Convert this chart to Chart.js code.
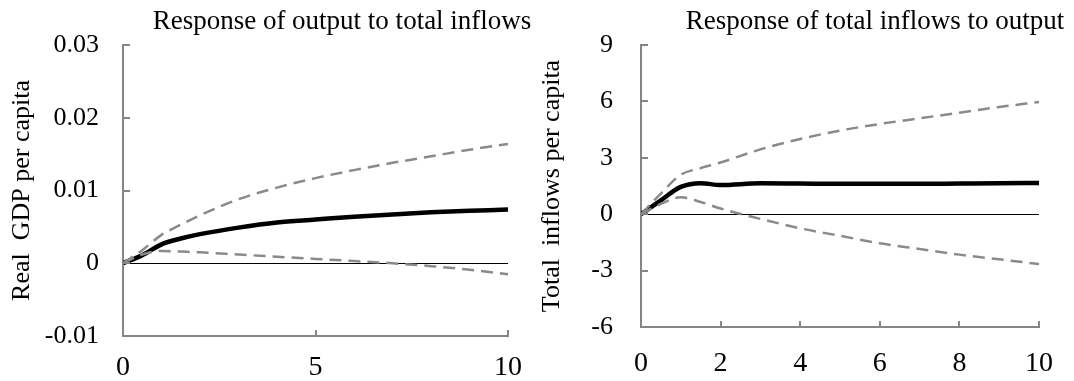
<!DOCTYPE html>
<html>
<head>
<meta charset="utf-8">
<script src="https://cdn.jsdelivr.net/npm/chart.js@4.4.1/dist/chart.umd.min.js"></script>
<style>
  html, body { margin: 0; padding: 0; background: #fff; }
  #wrap { position: relative; width: 1074px; height: 381px; }
  .box { position: absolute; top: 0; width: 537px; height: 381px; }
</style>
</head>
<body>
<div id="wrap">
  <div class="box" style="left:0"><canvas id="outChart"></canvas></div>
  <div class="box" style="left:537px"><canvas id="inflowChart"></canvas></div>
</div>
<script>
// horizon after the shock
const horizon = [0, 0.5, 1, 1.5, 2, 3, 4, 5, 6, 7, 8, 9, 10];

// response of output to total inflows
const outIrf   = [0, 0.0011, 0.0026, 0.0034, 0.0040, 0.0049, 0.0056, 0.0060, 0.0064, 0.0067, 0.0070, 0.0072, 0.0074];
const outUpper = [0, 0.0018, 0.0039, 0.0053, 0.0066, 0.0088, 0.0104, 0.0117, 0.0128, 0.0138, 0.0147, 0.0156, 0.0164];
const outLower = [0, 0.0012, 0.0017, 0.0016, 0.0015, 0.0012, 0.0009, 0.0006, 0.0003, 0.0000, -0.0004, -0.0009, -0.0015];

// response of total inflows to output
const infIrf   = [0, 0.74, 1.45, 1.65, 1.55, 1.64, 1.63, 1.62, 1.62, 1.62, 1.63, 1.64, 1.66];
const infUpper = [0, 1.10, 2.10, 2.45, 2.75, 3.45, 4.00, 4.45, 4.80, 5.10, 5.40, 5.70, 5.97];
const infLower = [0, 0.55, 0.90, 0.65, 0.30, -0.25, -0.75, -1.15, -1.55, -1.85, -2.15, -2.40, -2.65];

// tick labels
const outYTicks = [-0.01, 0, 0.01, 0.02, 0.03];
const outXTicks = [0, 5, 10];
const infYTicks = [-6, -3, 0, 3, 6, 9];
const infXTicks = [0, 2, 4, 6, 8, 10];

const serif = '"Liberation Serif", "Times New Roman", serif';
const axisGray = '#868686';
const bandGray = '#8a8a8a';

const pts = ys => horizon.map((x, i) => ({x: x, y: ys[i]}));

// Excel style tick marks that point into the plot
const insideTicks = {
  id: 'insideTicks',
  afterDatasetsDraw(chart) {
    const {ctx, chartArea: a, scales: {x, y}} = chart;
    ctx.save();
    ctx.strokeStyle = axisGray;
    ctx.lineWidth = 2;
    ctx.beginPath();
    y.ticks.forEach(t => {
      const py = Math.round(y.getPixelForValue(t.value));
      ctx.moveTo(a.left, py);
      ctx.lineTo(a.left + 7, py);
    });
    x.ticks.forEach(t => {
      const px = Math.round(x.getPixelForValue(t.value));
      ctx.moveTo(px, a.bottom);
      ctx.lineTo(px, a.bottom - 6);
    });
    ctx.stroke();
    ctx.restore();
  }
};

// panel title, placed freely (it is not centred on the plot)
const panelTitle = {
  id: 'panelTitle',
  afterDraw(chart, args, opts) {
    const ctx = chart.ctx;
    ctx.save();
    ctx.font = opts.size + 'px ' + serif;
    ctx.fillStyle = '#000';
    ctx.textAlign = 'center';
    ctx.textBaseline = 'middle';
    ctx.fillText(opts.text, opts.x, opts.y);
    ctx.restore();
  }
};

function makePanel(id, p) {
  return new Chart(document.getElementById(id), {
    type: 'line',
    data: {
      datasets: [
        {data: pts(p.upper), borderColor: bandGray, borderWidth: 2.5, borderDash: [12, 7], pointRadius: 0, cubicInterpolationMode: 'monotone'},
        {data: pts(p.lower), borderColor: bandGray, borderWidth: 2.5, borderDash: [12, 7], pointRadius: 0, cubicInterpolationMode: 'monotone'},
        {data: pts(p.irf), borderColor: '#000', borderWidth: 4.5, pointRadius: 0, cubicInterpolationMode: 'monotone'}
      ]
    },
    options: {
      responsive: true,
      maintainAspectRatio: false,
      animation: false,
      layout: {padding: {left: 0, top: p.top, right: p.right, bottom: 0}},
      plugins: {
        legend: {display: false},
        tooltip: {enabled: false},
        panelTitle: {text: p.title, x: p.titleX, y: 22, size: 27}
      },
      scales: {
        x: {
          type: 'linear',
          min: 0,
          max: 10,
          afterBuildTicks: s => { s.ticks = p.xTicks.map(v => ({value: v})); },
          afterFit: s => { s.height = p.xHeight; },
          grid: {color: 'rgba(0,0,0,0)', drawTicks: false},
          border: {color: axisGray, width: 2},
          ticks: {color: '#000', font: {family: serif, size: 28}, padding: p.xPad, maxRotation: 0}
        },
        y: {
          min: p.yTicks[0],
          max: p.yTicks[p.yTicks.length - 1],
          afterBuildTicks: s => { s.ticks = p.yTicks.map(v => ({value: v})); },
          afterFit: s => { s.width = p.yWidth; },
          grid: {
            drawTicks: false,
            lineWidth: 1,
            color: c => (c.tick && c.tick.value === 0) ? '#000' : 'rgba(0,0,0,0)'
          },
          border: {color: axisGray, width: 2},
          title: {display: true, text: p.yTitle, color: '#000', font: {family: serif, size: 26}, padding: {top: p.titlePad, bottom: 0}},
          ticks: {
            color: '#000',
            font: {family: serif, size: 26},
            padding: p.yPad,
            callback: v => String(Number(v.toFixed(2)))
          }
        }
      }
    },
    plugins: [insideTicks, panelTitle]
  });
}

makePanel('outChart', {
  irf: outIrf, upper: outUpper, lower: outLower,
  xTicks: outXTicks, yTicks: outYTicks,
  title: 'Response of output to total inflows', titleX: 342,
  yTitle: 'Real  GDP per capita', titlePad: 7,
  top: 45, right: 23, yWidth: 123, xHeight: 45, xPad: 15, yPad: 24
});

makePanel('inflowChart', {
  irf: infIrf, upper: infUpper, lower: infLower,
  xTicks: infXTicks, yTicks: infYTicks,
  title: 'Response of total inflows to output', titleX: 338,
  yTitle: 'Total  inflows per capita', titlePad: 0,
  top: 45, right: 35, yWidth: 104, xHeight: 54, xPad: 20, yPad: 28
});
</script>
</body>
</html>
